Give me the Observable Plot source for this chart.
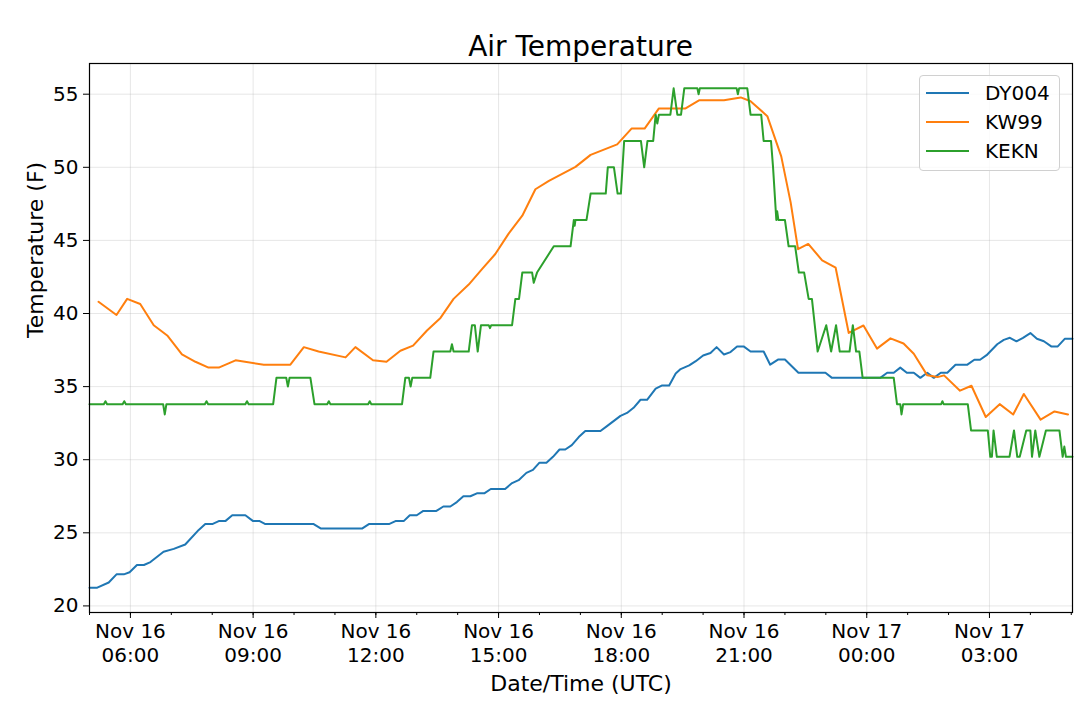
<!DOCTYPE html>
<html>
<head>
<meta charset="utf-8">
<script src="https://cdn.jsdelivr.net/npm/d3@7"></script>
<script src="https://cdn.jsdelivr.net/npm/@observablehq/plot@0.6"></script>
<style>
  body { margin: 0; background: white; font-family: "DejaVu Sans", sans-serif; }
  #wrap { position: relative; width: 1080px; height: 708px; }
  #title { height: 56px; box-sizing: border-box; padding: 33px 8px 0 89px; text-align: center; font-size: 28px; line-height: 28px; color: black; }
  #legend { position: absolute; left: 919px; top: 75px; width: 141px; height: 96px; box-sizing: border-box;
            border: 1px solid #d0d0d0; border-radius: 4px; background: rgba(255,255,255,0.8); padding-top: 2px; }
  .row { display: flex; align-items: center; height: 29.3px; font-size: 20px; }
  .row svg { margin-left: 6px; margin-right: 16px; }
</style>
</head>
<body>
<div id="wrap">
  <div id="title">Air Temperature</div>
  <div id="chart"></div>
  <div id="legend"></div>
</div>
<script>
// hours since Nov 16 00:00 UTC, temperature in F
const dyHours = [5.00, 5.19, 5.47, 5.66, 5.84, 5.98, 6.16, 6.33, 6.49, 6.81, 7.06, 7.34, 7.67, 7.83, 8.00, 8.16, 8.32, 8.49, 8.81, 9.00,
  9.16, 9.30, 10.48, 10.65, 11.67, 11.83, 12.32, 12.48, 12.68, 12.83, 13.00, 13.16, 13.48, 13.65, 13.82, 13.98, 14.14, 14.31, 14.47, 14.65,
  14.81, 15.16, 15.33, 15.49, 15.68, 15.84, 16.00, 16.17, 16.33, 16.49, 16.63, 16.79, 16.96, 17.12, 17.49, 17.65, 17.98, 18.14, 18.30, 18.47,
  18.63, 18.84, 19.00, 19.17, 19.33, 19.45, 19.66, 19.82, 20.00, 20.18, 20.33, 20.51, 20.67, 20.83, 20.99, 21.16, 21.48, 21.64, 21.83, 22.00,
  22.33, 22.99, 23.15, 24.33, 24.50, 24.66, 24.82, 24.98, 25.15, 25.31, 25.48, 25.64, 25.81, 25.97, 26.17, 26.46, 26.63, 26.77, 26.93, 27.19,
  27.35, 27.50, 27.66, 27.82, 28.00, 28.16, 28.33, 28.51, 28.67, 28.84, 29.03]
const dyTemps = [21.25, 21.25, 21.6, 22.16, 22.16, 22.3, 22.8, 22.8, 23.0, 23.7, 23.9, 24.2, 25.2, 25.6, 25.6, 25.8, 25.8, 26.2, 26.2, 25.8,
  25.8, 25.6, 25.6, 25.3, 25.3, 25.6, 25.6, 25.8, 25.8, 26.2, 26.2, 26.5, 26.5, 26.8, 26.8, 27.1, 27.5, 27.5, 27.7, 27.7,
  28.0, 28.0, 28.4, 28.6, 29.1, 29.3, 29.8, 29.8, 30.2, 30.7, 30.7, 31.0, 31.55, 31.96, 31.96, 32.3, 33.0, 33.2, 33.55, 34.1,
  34.1, 34.86, 35.08, 35.08, 35.9, 36.2, 36.45, 36.74, 37.13, 37.3, 37.7, 37.2, 37.36, 37.75, 37.75, 37.4, 37.4, 36.5, 36.85, 36.85,
  35.95, 35.95, 35.6, 35.6, 35.95, 35.95, 36.3, 35.95, 35.95, 35.6, 35.95, 35.6, 35.95, 35.95, 36.5, 36.5, 36.84, 36.84, 37.15, 37.9,
  38.2, 38.34, 38.1, 38.34, 38.66, 38.27, 38.1, 37.75, 37.75, 38.27, 38.27]

const kwHours = [5.22, 5.66, 5.92, 6.24, 6.57, 6.90, 7.26, 7.59, 7.91, 8.16, 8.57, 9.26, 9.91, 10.24, 10.60, 11.26, 11.50, 11.93, 12.26, 12.60,
  12.91, 13.25, 13.58, 13.90, 14.27, 14.60, 14.92, 15.25, 15.58, 15.90, 16.23, 16.88, 17.25, 17.90, 18.25, 18.57, 18.92, 19.57, 19.90, 20.51,
  20.92, 21.16, 21.57, 21.91, 22.14, 22.32, 22.57, 22.91, 23.24, 23.56, 23.92, 24.25, 24.58, 24.90, 25.15, 25.48, 25.73, 25.89, 26.28, 26.56,
  26.91, 27.25, 27.58, 27.84, 28.25, 28.59, 28.92]
const kwTemps = [40.8, 39.9, 41.0, 40.65, 39.2, 38.5, 37.2, 36.7, 36.3, 36.3, 36.8, 36.5, 36.5, 37.7, 37.4, 37.0, 37.7, 36.8, 36.7, 37.45,
  37.8, 38.84, 39.7, 41.0, 41.98, 43.05, 44.07, 45.48, 46.69, 48.5, 49.07, 50.03, 50.85, 51.57, 52.65, 52.65, 54.03, 54.03, 54.58, 54.58,
  54.78, 54.52, 53.5, 50.75, 47.6, 44.4, 44.76, 43.64, 43.13, 38.67, 39.18, 37.6, 38.3, 37.95, 37.25, 35.77, 35.65, 35.77, 34.72, 35.06,
  32.92, 33.8, 33.09, 34.5, 32.74, 33.3, 33.09]

const ekHours = [5.00, 5.35, 5.39, 5.43, 5.81, 5.85, 5.89, 6.80, 6.84, 6.88, 7.82, 7.86, 7.90, 8.81, 8.85, 8.89, 9.49, 9.57, 9.81, 9.85,
  9.89, 10.40, 10.50, 10.81, 10.85, 10.89, 11.81, 11.85, 11.89, 12.64, 12.72, 12.81, 12.85, 12.89, 13.33, 13.41, 13.82, 13.86, 13.90, 14.27,
  14.35, 14.42, 14.49, 14.57, 14.76, 14.79, 14.82, 15.33, 15.41, 15.50, 15.58, 15.82, 15.86, 15.94, 16.35, 16.76, 16.84, 16.86, 16.88, 17.15,
  17.25, 17.62, 17.67, 17.82, 17.91, 17.99, 18.07, 18.48, 18.56, 18.64, 18.78, 18.84, 18.88, 18.92, 19.20, 19.28, 19.37, 19.46, 19.54, 19.86,
  19.89, 19.92, 20.82, 20.85, 20.88, 21.08, 21.16, 21.42, 21.48, 21.66, 21.71, 21.79, 21.81, 21.84, 22.00, 22.09, 22.25, 22.34, 22.47, 22.58,
  22.66, 22.80, 23.01, 23.13, 23.25, 23.34, 23.58, 23.66, 23.74, 23.82, 23.90, 24.66, 24.74, 24.82, 24.85, 24.89, 25.82, 25.85, 25.88, 26.47,
  26.55, 26.96, 27.02, 27.06, 27.10, 27.18, 27.49, 27.60, 27.68, 27.74, 27.90, 28.00, 28.04, 28.12, 28.22, 28.38, 28.71, 28.79, 28.83, 28.87,
  29.03]
const ekTemps = [33.8, 33.8, 34.0, 33.8, 33.8, 34.0, 33.8, 33.8, 33.1, 33.8, 33.8, 34.0, 33.8, 33.8, 34.0, 33.8, 33.8, 35.6, 35.6, 35.0,
  35.6, 35.6, 33.8, 33.8, 34.0, 33.8, 33.8, 34.0, 33.8, 33.8, 35.6, 35.6, 35.0, 35.6, 35.6, 37.4, 37.4, 37.9, 37.4, 37.4,
  39.2, 39.2, 37.4, 39.2, 39.2, 39.0, 39.2, 39.2, 41.0, 41.0, 42.8, 42.8, 42.1, 42.8, 44.6, 44.6, 46.4, 46.0, 46.4, 46.4,
  48.2, 48.2, 50.0, 50.0, 48.2, 48.2, 51.8, 51.8, 50.0, 51.8, 51.8, 53.6, 53.0, 53.6, 53.6, 55.4, 53.6, 53.6, 55.4, 55.4,
  55.0, 55.4, 55.4, 55.0, 55.4, 55.4, 53.6, 53.6, 51.8, 51.8, 50.0, 46.4, 47.0, 46.4, 46.4, 44.6, 44.6, 42.8, 42.8, 41.0,
  41.0, 37.4, 39.2, 37.4, 39.2, 37.4, 37.4, 39.2, 37.4, 37.4, 35.6, 35.6, 33.8, 33.8, 33.1, 33.8, 33.8, 34.0, 33.8, 33.8,
  32.0, 32.0, 30.2, 30.2, 32.0, 30.2, 30.2, 32.0, 30.2, 30.2, 32.0, 32.0, 30.2, 32.0, 30.2, 32.0, 32.0, 30.2, 30.9, 30.2,
  30.2]

const stations = ["DY004", "KW99", "KEKN"]
const colors = ["#1f77b4", "#ff7f0e", "#2ca02c"]
const yTicks = [20, 25, 30, 35, 40, 45, 50, 55]

const t0 = Date.UTC(2018, 10, 16)
const toDate = h => new Date(t0 + h * 3600e3)
const rows = (hours, temps) => hours.map((h, i) => ({date: toDate(h), temp: temps[i]}))

const xStart = toDate(5.0), xEnd = toDate(29.03)
const majorTicks = d3.utcHour.every(3).range(xStart, xEnd)
const minorTicks = d3.utcHour.every(1).range(xStart, xEnd)
const fmtDay = d3.utcFormat("%b %d"), fmtHour = d3.utcFormat("%H:%M")

const chart = Plot.plot({
  width: 1080,
  height: 652,
  marginTop: 7,
  marginLeft: 89,
  marginRight: 8,
  marginBottom: 96,
  style: {fontFamily: "DejaVu Sans", fontSize: "20px", color: "black", background: "white"},
  x: {type: "utc", domain: [xStart, xEnd]},
  y: {domain: [19.55, 57.1]},
  marks: [
    Plot.gridX(majorTicks, {stroke: "#b0b0b0", strokeOpacity: 0.3, strokeWidth: 1}),
    Plot.gridY(yTicks, {stroke: "#b0b0b0", strokeOpacity: 0.3, strokeWidth: 1}),
    Plot.axisX(minorTicks, {tickSize: 3, tickFormat: () => "", label: null}),
    Plot.axisX(majorTicks, {tickSize: 6, tickPadding: 2, fontSize: 20, lineHeight: 1.2,
      tickFormat: d => fmtDay(d) + "\n" + fmtHour(d), label: null}),
    Plot.axisY(yTicks, {tickSize: 6, tickPadding: 5, fontSize: 20, label: null}),
    Plot.line(rows(dyHours, dyTemps), {x: "date", y: "temp", stroke: colors[0], strokeWidth: 2}),
    Plot.line(rows(kwHours, kwTemps), {x: "date", y: "temp", stroke: colors[1], strokeWidth: 2}),
    Plot.line(rows(ekHours, ekTemps), {x: "date", y: "temp", stroke: colors[2], strokeWidth: 2}),
    Plot.frame({stroke: "black", strokeWidth: 1.2}),
    Plot.text(["Date/Time (UTC)"], {text: d => d, frameAnchor: "bottom", lineAnchor: "middle", dy: 71, fontSize: 22}),
    Plot.text(["Temperature (F)"], {text: d => d, frameAnchor: "left", dx: -54, rotate: -90, fontSize: 22})
  ]
})
d3.select("#chart").append(() => chart)

// legend drawn over the plot, top right like matplotlib
const legend = d3.select("#legend")
stations.forEach((s, i) => {
  const row = legend.append("div").attr("class", "row")
  const sw = row.append("svg").attr("width", 43).attr("height", 4)
  sw.append("line").attr("x1", 0).attr("x2", 43).attr("y1", 2).attr("y2", 2)
    .attr("stroke", colors[i]).attr("stroke-width", 2)
  row.append("span").text(s)
})
</script>
</body>
</html>
